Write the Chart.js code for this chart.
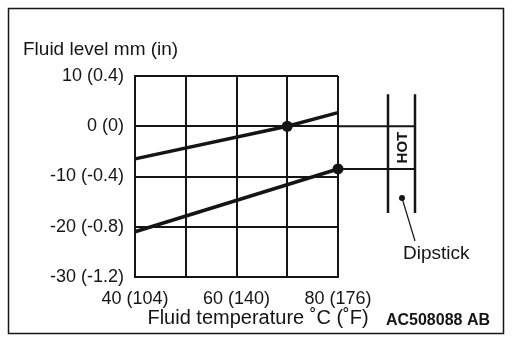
<!DOCTYPE html>
<html>
<head>
<meta charset="utf-8">
<script src="https://cdn.jsdelivr.net/npm/chart.js"></script>
<style>
    html, body { margin: 0; padding: 0; background: #fff; }
    canvas { display: block; }
</style>
</head>
<body>
<canvas id="levelChart" width="514" height="341"></canvas>
<script>
// fluid temperature (deg C) vs. fluid level (mm)
const upperTemp = [40, 70, 80];
const upperLevel = [-6.5, 0, 2.7];
const upperDots = [0, 5.5, 0];

const lowerTemp = [40, 80];
const lowerLevel = [-21, -8.5];
const lowerDots = [0, 5.5];

const xTickLabels = {40: '40 (104)', 60: '60 (140)', 80: '80 (176)'};
const yTickLabels = {10: '10 (0.4)', 0: '0 (0)', '-10': '-10 (-0.4)', '-20': '-20 (-0.8)', '-30': '-30 (-1.2)'};

const hotLevel = upperLevel[1];
const lowLevel = lowerLevel[1];

const FONT = '"Liberation Sans", Arial, Helvetica, sans-serif';
const INK = '#151515';

const decorations = {
    id: 'decorations',
    afterDraw(chart) {
        const ctx = chart.ctx;
        const area = chart.chartArea;
        const x = chart.scales.x;
        const y = chart.scales.y;
        const xEnd = x.getPixelForValue(80);
        const yHot = y.getPixelForValue(hotLevel);
        const yLow = y.getPixelForValue(lowLevel);
        const stickL = area.right + 50;
        const stickR = area.right + 77;

        ctx.save();
        ctx.strokeStyle = INK;
        ctx.fillStyle = INK;

        // outer frame
        ctx.lineWidth = 1.5;
        ctx.strokeRect(8.5, 8.5, 495, 325);

        // level marks carried over to the dipstick
        ctx.lineWidth = 2;
        ctx.beginPath();
        ctx.moveTo(xEnd, yHot);
        ctx.lineTo(stickR, yHot);
        ctx.moveTo(xEnd, yLow);
        ctx.lineTo(stickR, yLow);
        ctx.stroke();

        // dipstick
        ctx.lineWidth = 2.5;
        ctx.beginPath();
        ctx.moveTo(stickL, yHot - 32);
        ctx.lineTo(stickL, yLow + 44);
        ctx.moveTo(stickR, yHot - 32);
        ctx.lineTo(stickR, yLow + 44);
        ctx.stroke();

        // HOT, written upwards between the marks
        ctx.save();
        ctx.translate((stickL + stickR) / 2 + 1, (yHot + yLow) / 2);
        ctx.rotate(-Math.PI / 2);
        ctx.font = 'bold 15px ' + FONT;
        ctx.textAlign = 'center';
        ctx.textBaseline = 'middle';
        ctx.fillText('HOT', 0, 0);
        ctx.restore();

        // leader to the Dipstick label
        ctx.beginPath();
        ctx.arc(stickL + 14, yLow + 29, 3, 0, Math.PI * 2);
        ctx.fill();
        ctx.lineWidth = 1.2;
        ctx.beginPath();
        ctx.moveTo(stickL + 14, yLow + 29);
        ctx.lineTo(stickR, yLow + 72);
        ctx.stroke();

        ctx.font = '19px ' + FONT;
        ctx.textAlign = 'left';
        ctx.textBaseline = 'alphabetic';
        ctx.fillText('Dipstick', stickL + 15, yLow + 90);

        // axis titles
        ctx.fillText('Fluid level mm (in)', 23, 55);
        ctx.font = '20px ' + FONT;
        ctx.textAlign = 'center';
        ctx.fillText('Fluid temperature \u02DAC (\u02DAF)', 258, 324);

        ctx.font = 'bold 16px ' + FONT;
        ctx.textAlign = 'right';
        ctx.fillText('AC508088 AB', 490, 325);
        ctx.restore();
    }
};

new Chart(document.getElementById('levelChart'), {
    type: 'scatter',
    data: {
        datasets: [
            {
                data: upperTemp.map((t, i) => ({x: t, y: upperLevel[i]})),
                showLine: true,
                borderColor: INK,
                backgroundColor: INK,
                borderWidth: 3.5,
                pointRadius: upperDots,
                pointBorderWidth: 0,
                clip: false
            },
            {
                data: lowerTemp.map((t, i) => ({x: t, y: lowerLevel[i]})),
                showLine: true,
                borderColor: INK,
                backgroundColor: INK,
                borderWidth: 3.5,
                pointRadius: lowerDots,
                pointBorderWidth: 0,
                clip: false
            }
        ]
    },
    options: {
        responsive: false,
        animation: false,
        layout: {padding: {top: 76, right: 176, bottom: 0, left: 0}},
        plugins: {
            legend: {display: false},
            tooltip: {enabled: false}
        },
        scales: {
            x: {
                type: 'linear',
                min: 40,
                max: 80,
                afterFit: s => { s.height = 64; },
                grid: {color: INK, lineWidth: 2, drawTicks: false},
                border: {color: INK, width: 2},
                ticks: {
                    stepSize: 10,
                    padding: 11,
                    color: INK,
                    font: {family: FONT, size: 18},
                    maxRotation: 0,
                    autoSkip: false,
                    callback: v => xTickLabels[v] || ''
                }
            },
            y: {
                type: 'linear',
                min: -30,
                max: 10,
                afterFit: s => { s.width = 135; },
                grid: {color: INK, lineWidth: 2, drawTicks: false},
                border: {color: INK, width: 2},
                ticks: {
                    stepSize: 10,
                    padding: 11,
                    color: INK,
                    font: {family: FONT, size: 18},
                    callback: v => yTickLabels[v] || ''
                }
            }
        }
    },
    plugins: [decorations]
});
</script>
</body>
</html>
